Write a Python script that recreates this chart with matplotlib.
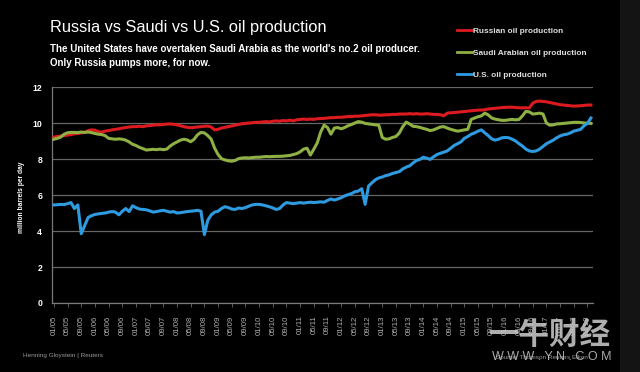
import matplotlib
matplotlib.use("Agg")
import matplotlib.pyplot as plt
from matplotlib.patches import Rectangle

# ---------------- data (million barrels per day, monthly Jan 2005 - Feb 2018)
russia = [
    9.22, 9.25, 9.28, 9.30, 9.33, 9.36, 9.40, 9.42, 9.45, 9.48, 9.58, 9.62,
    9.60, 9.52, 9.50, 9.55, 9.58, 9.62, 9.65, 9.68, 9.72, 9.75, 9.78, 9.80,
    9.80, 9.82, 9.80, 9.84, 9.86, 9.88, 9.90, 9.90, 9.92, 9.94, 9.95, 9.93,
    9.90, 9.85, 9.80, 9.76, 9.74, 9.76, 9.78, 9.80, 9.82, 9.83, 9.78, 9.62,
    9.65, 9.72, 9.76, 9.80, 9.84, 9.88, 9.92, 9.96, 9.98, 10.00, 10.02, 10.04,
    10.04, 10.06, 10.08, 10.06, 10.10, 10.12, 10.10, 10.14, 10.12, 10.16, 10.12, 10.18,
    10.20, 10.22, 10.20, 10.22, 10.20, 10.24, 10.25, 10.26, 10.28, 10.30, 10.30, 10.32,
    10.32, 10.34, 10.36, 10.36, 10.38, 10.38, 10.40, 10.42, 10.44, 10.46, 10.46, 10.44,
    10.44, 10.46, 10.46, 10.48, 10.48, 10.50, 10.50, 10.50, 10.52, 10.50, 10.52, 10.50,
    10.50, 10.52, 10.50, 10.48, 10.48, 10.46, 10.40, 10.55, 10.57, 10.58, 10.60, 10.62,
    10.64, 10.66, 10.68, 10.70, 10.72, 10.72, 10.74, 10.78, 10.80, 10.82, 10.84, 10.86,
    10.87, 10.88, 10.88, 10.86, 10.85, 10.84, 10.85, 10.84, 11.10, 11.20, 11.22, 11.20,
    11.18, 11.14, 11.10, 11.06, 11.02, 11.00, 10.98, 10.96, 10.94, 10.95, 10.96, 10.98,
    11.00, 11.00,
]
saudi = [
    9.10, 9.15, 9.22, 9.38, 9.46, 9.48, 9.48, 9.47, 9.50, 9.48, 9.50, 9.47,
    9.42, 9.38, 9.36, 9.30, 9.15, 9.12, 9.10, 9.12, 9.10, 9.05, 8.95, 8.82,
    8.75, 8.65, 8.58, 8.50, 8.52, 8.54, 8.52, 8.55, 8.52, 8.55, 8.72, 8.85,
    8.95, 9.05, 9.10, 9.06, 8.96, 9.10, 9.35, 9.48, 9.45, 9.30, 9.10, 8.60,
    8.25, 8.02, 7.95, 7.90, 7.88, 7.92, 8.02, 8.06, 8.07, 8.06, 8.08, 8.10,
    8.10, 8.12, 8.14, 8.13, 8.14, 8.15, 8.15, 8.16, 8.18, 8.20, 8.25, 8.30,
    8.40, 8.55, 8.60, 8.22, 8.55, 8.90, 9.50, 9.88, 9.75, 9.38, 9.72, 9.75,
    9.68, 9.75, 9.85, 9.92, 10.00, 10.08, 10.05, 9.98, 9.95, 9.93, 9.90, 9.88,
    9.20, 9.10, 9.12, 9.20, 9.25, 9.45, 9.80, 10.05, 9.95, 9.82, 9.80, 9.76,
    9.70, 9.65, 9.58, 9.62, 9.70, 9.78, 9.80, 9.72, 9.65, 9.60, 9.55, 9.58,
    9.62, 9.65, 10.20, 10.28, 10.35, 10.40, 10.55, 10.45, 10.28, 10.22, 10.18, 10.15,
    10.15, 10.18, 10.20, 10.18, 10.20, 10.40, 10.65, 10.62, 10.50, 10.52, 10.55, 10.50,
    10.00, 9.88, 9.90, 9.95, 9.96, 9.98, 10.00, 10.02, 10.04, 10.04, 10.03, 10.00,
    10.00, 9.98,
]
usa = [
    5.45, 5.46, 5.48, 5.47, 5.52, 5.58, 5.25, 5.45, 3.85, 4.30, 4.75, 4.85,
    4.92, 4.95, 4.98, 5.00, 5.05, 5.08, 5.05, 4.90, 5.10, 5.25, 5.08, 5.40,
    5.30, 5.22, 5.20, 5.18, 5.12, 5.05, 5.08, 5.12, 5.15, 5.10, 5.05, 5.08,
    5.00, 5.02, 5.05, 5.08, 5.10, 5.12, 5.15, 5.10, 3.80, 4.60, 4.90, 5.05,
    5.10, 5.25, 5.35, 5.30, 5.22, 5.20, 5.28, 5.25, 5.30, 5.38, 5.45, 5.48,
    5.48, 5.45, 5.40, 5.35, 5.28, 5.20, 5.25, 5.45, 5.58, 5.55, 5.52, 5.55,
    5.58, 5.55, 5.58, 5.60, 5.58, 5.60, 5.62, 5.60, 5.70, 5.78, 5.72, 5.78,
    5.85, 5.95, 6.02, 6.08, 6.18, 6.22, 6.35, 5.48, 6.50, 6.68, 6.85, 6.95,
    7.00, 7.08, 7.12, 7.20, 7.25, 7.30, 7.45, 7.55, 7.62, 7.78, 7.92, 7.98,
    8.10, 8.05, 7.98, 8.12, 8.25, 8.32, 8.38, 8.45, 8.60, 8.75, 8.85, 8.95,
    9.15, 9.25, 9.38, 9.45, 9.55, 9.62, 9.45, 9.30, 9.12, 9.05, 9.10, 9.18,
    9.20, 9.18, 9.10, 9.00, 8.85, 8.72, 8.55, 8.45, 8.42, 8.45, 8.55, 8.70,
    8.85, 8.95, 9.05, 9.18, 9.28, 9.35, 9.38, 9.45, 9.55, 9.60, 9.65, 9.85,
    9.98, 10.28,
]
years = list(range(2005, 2019))
tick_months = ["01", "05", "09"]
tick_labels = [f"{m}/{str(y)[2:]}" for y in years for m in tick_months][:40]
y_ticks = [0, 2, 4, 6, 8, 10, 12]
series_names = ["Russian oil production", "Saudi Arabian oil production", "U.S. oil production"]

# ---------------- figure
BG = "#000000"
fig = plt.figure(figsize=(6.4, 3.72), dpi=100, facecolor=BG)
fig.patches.append(Rectangle((0.968, 0), 0.032, 1, transform=fig.transFigure,
                             facecolor="#141414", edgecolor="none", zorder=0))

ax = fig.add_axes([0.081, 0.1855, 0.846, 0.5805], facecolor=BG)

months = list(range(len(russia)))
colors = ["#dc1a1f", "#8fb043", "#2e9be0"]
for vals, c, name in zip([russia, saudi, usa], colors, series_names):
    ax.plot(months, vals, color=c, lw=2.2, solid_joinstyle="round", label=name, zorder=3)

ax.set_xlim(-0.6, 157.7)
ax.set_ylim(0, 12)
ax.set_yticks(y_ticks)
ax.set_yticklabels([str(v) for v in y_ticks], color="white", fontsize=6.2,
                   fontweight="bold", family="Liberation Sans")
ax.tick_params(axis="y", length=0, pad=7)
ax.grid(axis="y", color="#666666", lw=0.9)
ax.set_axisbelow(True)

ax.set_xticks(range(0, 4 * len(tick_labels), 4))
ax.set_xticklabels(tick_labels, rotation=90, color="#b0b0b0", fontsize=5.6,
                   family="Liberation Sans")
ax.tick_params(axis="x", length=3, color="#6a6a6a", width=0.6, pad=6)

for s in ["top", "right"]:
    ax.spines[s].set_visible(False)
for s in ["left", "bottom"]:
    ax.spines[s].set_color("#7a7a7a")
    ax.spines[s].set_linewidth(0.9)

fig.text(0.034, 0.47, "million barrels per day", rotation=90, color="white",
         fontsize=4.8, fontweight="bold", ha="center", va="center",
         family="Liberation Sans")

# titles
fig.text(0.078, 0.925, "Russia vs Saudi vs U.S. oil production", color="white",
         fontsize=11.8, ha="left", va="center", family="Liberation Sans")
fig.text(0.078, 0.868, "The United States have overtaken Saudi Arabia as the world's no.2 oil producer.",
         color="white", fontsize=7.0, fontweight="bold", ha="left", va="center",
         family=["Liberation Sans Narrow", "Liberation Sans"])
fig.text(0.078, 0.831, "Only Russia pumps more, for now.",
         color="white", fontsize=7.0, fontweight="bold", ha="left", va="center",
         family=["Liberation Sans Narrow", "Liberation Sans"])

# legend
leg = fig.legend(loc="upper left", bbox_to_anchor=(0.702, 0.947), frameon=False,
                 handlelength=1.8, handletextpad=0.15, labelspacing=1.7,
                 prop={"family": ["Liberation Sans Narrow", "Liberation Sans"],
                       "size": 5.95, "weight": "bold"})
for t in leg.get_texts():
    t.set_color("#e0e0e0")
for h in leg.get_lines():
    h.set_linewidth(2.0)

# footer
fig.text(0.036, 0.045, "Henning Gloystein | Reuters", color="#9a9a9a", fontsize=4.6,
         ha="left", va="center", family="Liberation Sans")
fig.text(0.775, 0.04, "Source: Thomson Reuters Eikon", color="#9a9a9a", fontsize=4.6,
         ha="left", va="center", family="Liberation Sans")

# watermark
fig.text(0.859, 0.099, "一牛财经", color="#c2c2c2", fontsize=22, fontweight="bold",
         ha="center", va="center", family=["Noto Sans CJK SC", "DejaVu Sans"], alpha=0.9)
fig.text(0.862, 0.04, "W W W . Y N . C O M", color="#c8c8c8", fontsize=9,
         ha="center", va="center", family="Liberation Sans", alpha=0.85)

fig.savefig("out.png", dpi=100, facecolor=BG)
